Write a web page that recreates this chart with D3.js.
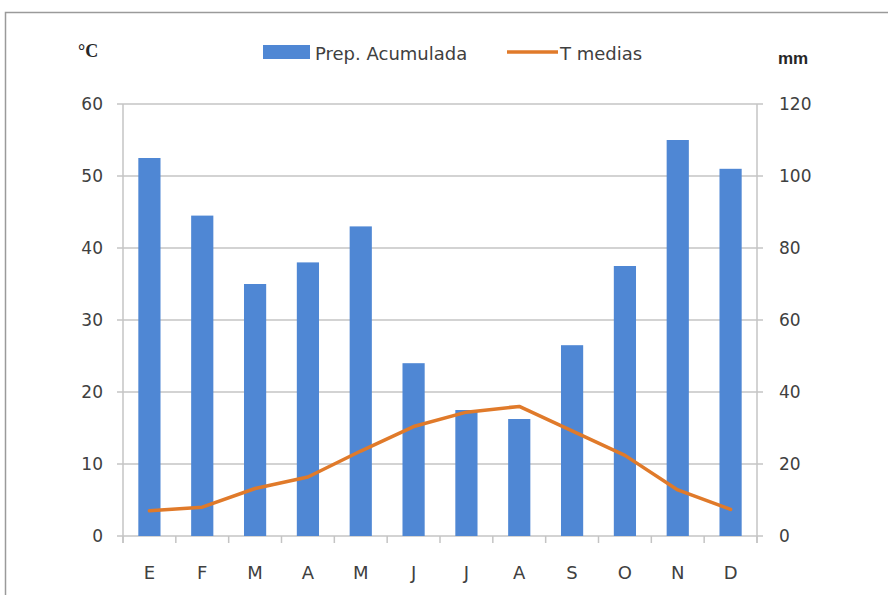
<!DOCTYPE html>
<html>
<head>
<meta charset="utf-8">
<script src="https://cdn.jsdelivr.net/npm/d3@7"></script>
<style>
  body { margin: 0; background: #fff; }
  text { font-family: "DejaVu Sans", "Liberation Sans", Arial, sans-serif; fill: #404040; }
</style>
</head>
<body>
<div id="chart"></div>
<script>
const months = ['E', 'F', 'M', 'A', 'M', 'J', 'J', 'A', 'S', 'O', 'N', 'D'];
const precip = [105, 89, 70, 76, 86, 48, 35, 32.5, 53, 75, 110, 102];
const temps = [3.5, 4.0, 6.6, 8.2, 11.8, 15.2, 17.2, 18.0, 14.6, 11.2, 6.4, 3.7];
const tempTicks = [0, 10, 20, 30, 40, 50, 60];
const precipTicks = [0, 20, 40, 60, 80, 100, 120];

const width = 888, height = 595;
const margin = {top: 104, right: 131, bottom: 59, left: 123};
const innerW = width - margin.left - margin.right;
const innerH = height - margin.top - margin.bottom;
const fontFam = '"DejaVu Sans", "Liberation Sans", Arial, sans-serif';

const svg = d3.select('#chart')
  .append('svg')
    .attr('width', width)
    .attr('height', height);

// outer chart frame
svg.append('rect')
  .attr('x', 5.5).attr('y', 12.5)
  .attr('width', 900).attr('height', 600)
  .attr('fill', 'none')
  .attr('stroke', '#9a9a9a')
  .attr('stroke-width', 1.5);

const g = svg.append('g')
  .attr('transform', `translate(${margin.left}, ${margin.top})`);

const idx = months.map((m, i) => i);

const xScale = d3.scaleBand()
  .domain(idx)
  .range([0, innerW])
  .paddingInner(0.58)
  .paddingOuter(0.29);

const yTemp = d3.scaleLinear().domain([0, 60]).range([innerH, 0]);
const yPrecip = d3.scaleLinear().domain([0, 120]).range([innerH, 0]);

// gridlines
g.append('g')
  .selectAll('line')
  .data(tempTicks)
  .join('line')
    .attr('x1', -6).attr('x2', innerW + 6)
    .attr('y1', d => yTemp(d)).attr('y2', d => yTemp(d))
    .attr('stroke', '#c4c4c4')
    .attr('stroke-width', 1.5);

// vertical axis lines
[0, innerW].forEach(x => {
  g.append('line')
    .attr('x1', x).attr('x2', x)
    .attr('y1', 0).attr('y2', innerH + 7)
    .attr('stroke', '#c4c4c4')
    .attr('stroke-width', 1.5);
});

// bottom ticks at band boundaries
const step = innerW / months.length;
g.append('g')
  .selectAll('line')
  .data(d3.range(months.length + 1))
  .join('line')
    .attr('x1', d => d * step).attr('x2', d => d * step)
    .attr('y1', innerH).attr('y2', innerH + 7)
    .attr('stroke', '#c4c4c4')
    .attr('stroke-width', 1.5);

// bars
g.append('g')
  .selectAll('rect')
  .data(precip)
  .join('rect')
    .attr('x', (d, i) => xScale(i))
    .attr('y', d => yPrecip(d))
    .attr('width', xScale.bandwidth())
    .attr('height', d => innerH - yPrecip(d))
    .attr('fill', '#4f87d4');

// temperature line
const line = d3.line()
  .x((d, i) => xScale(i) + xScale.bandwidth() / 2)
  .y(d => yTemp(d));

g.append('path')
  .datum(temps)
  .attr('fill', 'none')
  .attr('stroke', '#e07a2a')
  .attr('stroke-width', 3.5)
  .attr('stroke-linejoin', 'round')
  .attr('stroke-linecap', 'round')
  .attr('d', line);

// axis labels
const leftAxis = g.append('g')
  .call(d3.axisLeft(yTemp).tickValues(tempTicks).tickSize(0).tickPadding(20));
leftAxis.select('.domain').remove();
leftAxis.selectAll('text').attr('font-size', 17).style('fill', '#404040')
  .style('font-family', fontFam);

const rightAxis = g.append('g')
  .attr('transform', `translate(${innerW}, 0)`)
  .call(d3.axisRight(yPrecip).tickValues(precipTicks).tickSize(0).tickPadding(22));
rightAxis.select('.domain').remove();
rightAxis.selectAll('text').attr('font-size', 17).style('fill', '#404040')
  .style('font-family', fontFam);

const bottomAxis = g.append('g')
  .attr('transform', `translate(0, ${innerH})`)
  .call(d3.axisBottom(xScale).tickSize(0).tickPadding(30).tickFormat(i => months[i]));
bottomAxis.select('.domain').remove();
bottomAxis.selectAll('text').attr('font-size', 18).style('fill', '#404040')
  .style('font-family', fontFam);

// unit labels
svg.append('text')
  .attr('x', 78).attr('y', 57)
  .style('font-family', '"Liberation Serif", serif')
  .style('font-weight', 'bold')
  .style('fill', '#262626')
  .attr('font-size', 18)
  .text('°C');

svg.append('text')
  .attr('x', 778).attr('y', 64)
  .style('font-family', '"Liberation Sans", Arial, sans-serif')
  .style('font-weight', 'bold')
  .style('fill', '#262626')
  .attr('font-size', 17)
  .text('mm');

// legend
const legend = svg.append('g').attr('transform', 'translate(263, 52)');
legend.append('rect')
  .attr('x', 0).attr('y', -7)
  .attr('width', 47).attr('height', 14)
  .attr('fill', '#4f87d4');
legend.append('text')
  .attr('x', 52).attr('y', 8)
  .attr('font-size', 18)
  .text('Prep. Acumulada');
legend.append('line')
  .attr('x1', 244).attr('x2', 295)
  .attr('y1', 0).attr('y2', 0)
  .attr('stroke', '#e07a2a')
  .attr('stroke-width', 3.5);
legend.append('text')
  .attr('x', 297).attr('y', 8)
  .attr('font-size', 18)
  .text('T medias');
</script>
</body>
</html>
